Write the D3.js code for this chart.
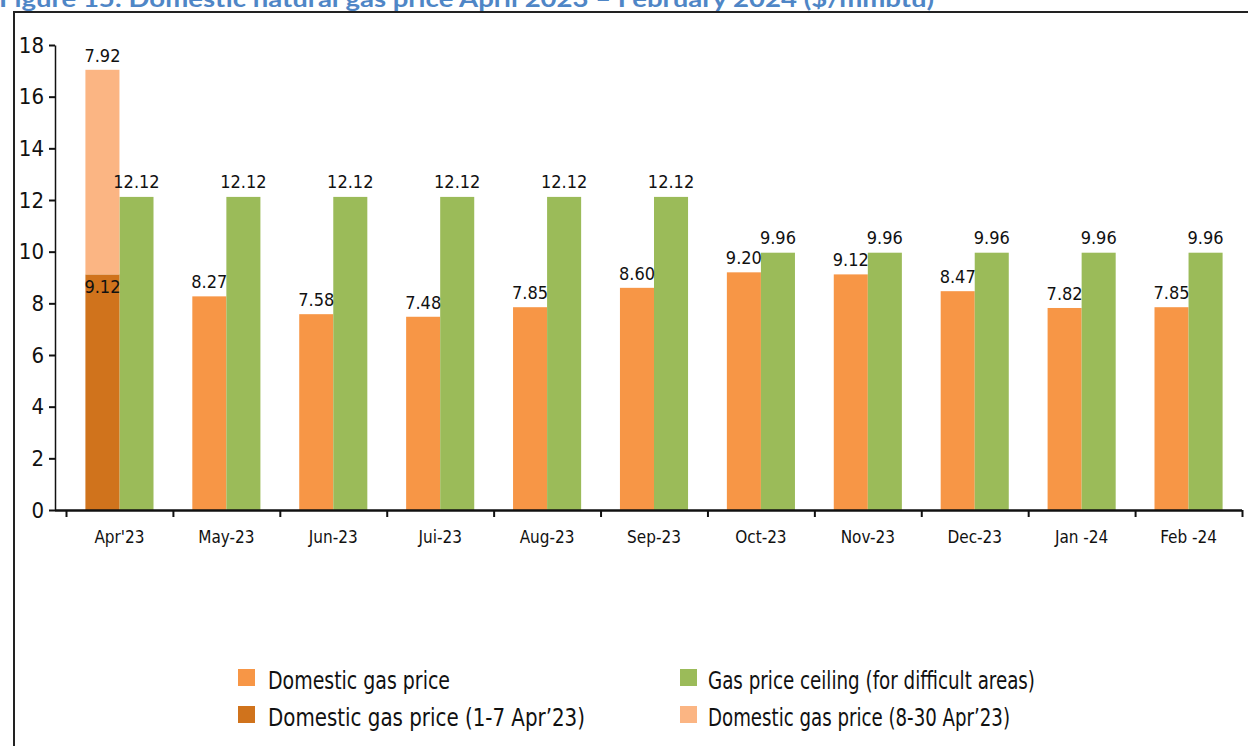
<!DOCTYPE html>
<html>
<head>
<meta charset="utf-8">
<script src="https://cdn.jsdelivr.net/npm/d3@7"></script>
<style>
  body { margin: 0; background: #fff; }
  svg { display: block; }
  text { font-family: "Liberation Sans Narrow", "DejaVu Sans Condensed", sans-serif; fill: #111; }
</style>
</head>
<body>
<svg id="chart" width="1248" height="746"></svg>
<script>
// values ($/mmbtu)
const months = ["Apr'23", "May-23", "Jun-23", "Jui-23", "Aug-23", "Sep-23", "Oct-23", "Nov-23", "Dec-23", "Jan -24", "Feb -24"];
const domestic = [null, 8.27, 7.58, 7.48, 7.85, 8.60, 9.20, 9.12, 8.47, 7.82, 7.85];
const aprilParts = [9.12, 7.92]; // 1-7 Apr, 8-30 Apr (stacked)
const ceiling = [12.12, 12.12, 12.12, 12.12, 12.12, 12.12, 9.96, 9.96, 9.96, 9.96, 9.96];
const yTicks = [0, 2, 4, 6, 8, 10, 12, 14, 16, 18];
const legendLabels = ["Domestic gas price", "Gas price ceiling (for difficult areas)", "Domestic gas price (1-7 Apr\u201923)", "Domestic gas price (8-30 Apr\u201923)"];
const titleText = "Figure 15: Domestic natural gas price April 2023 \u2013 February 2024 ($/mmbtu)";

const colors = {
    domestic: "#f79646",
    early: "#d0731c",
    late: "#fbb583",
    ceiling: "#9bbb59"
};

const svg = d3.select("#chart");

// title (top half is cut off in the source)
svg.append("text")
    .attr("x", -1)
    .attr("y", 7)
    .attr("textLength", 935)
    .attr("lengthAdjust", "spacingAndGlyphs")
    .style("font-family", "Lato, 'Open Sans', sans-serif")
    .style("font-weight", "bold")
    .style("font-size", "22px")
    .style("fill", "#4f86c6")
    .text(titleText);

// frame
svg.append("path")
    .attr("d", "M14,746 V12 H1248")
    .attr("fill", "none")
    .attr("stroke", "#222")
    .attr("stroke-width", 2);

const x0 = d3.scaleBand().domain(months).range([66, 1242]);
const x1 = d3.scaleBand().domain(["domestic", "ceiling"]).range([0, x0.bandwidth()]).paddingOuter(0.57);
const y = d3.scaleLinear().domain([0, 18]).range([510, 45]);

// y axis
const yAxis = svg.append("g")
    .attr("transform", "translate(55,0)")
    .call(d3.axisLeft(y).tickValues(yTicks).tickSize(6).tickSizeOuter(0).tickPadding(5));
yAxis.select(".domain").attr("stroke", "#111").attr("stroke-width", 1.5);
yAxis.selectAll(".tick line").attr("stroke", "#111").attr("stroke-width", 2);
yAxis.selectAll("text").style("font-size", "22px").style("font-family", null);

// bars
const groups = svg.selectAll(".month")
    .data(months)
    .enter().append("g")
    .attr("class", "month")
    .attr("transform", d => `translate(${x0(d)},0)`);

groups.filter((d, i) => domestic[i] !== null)
    .append("rect")
    .attr("x", x1("domestic"))
    .attr("width", x1.bandwidth())
    .attr("y", d => y(domestic[months.indexOf(d)]))
    .attr("height", d => y(0) - y(domestic[months.indexOf(d)]))
    .attr("fill", colors.domestic);

groups.append("rect")
    .attr("x", x1("ceiling"))
    .attr("width", x1.bandwidth())
    .attr("y", (d, i) => y(ceiling[i]))
    .attr("height", (d, i) => y(0) - y(ceiling[i]))
    .attr("fill", colors.ceiling);

// April stacked bar
const aprStack = [
    { y0: 0, y1: aprilParts[0], color: colors.early },
    { y0: aprilParts[0], y1: aprilParts[0] + aprilParts[1], color: colors.late }
];
const apr = groups.filter(d => d === months[0]);
apr.selectAll(".stack")
    .data(aprStack)
    .enter().append("rect")
    .attr("class", "stack")
    .attr("x", x1("domestic"))
    .attr("width", x1.bandwidth())
    .attr("y", d => y(d.y1))
    .attr("height", d => y(d.y0) - y(d.y1))
    .attr("fill", d => d.color);

// value labels
const labelSize = "18px";
groups.filter((d, i) => domestic[i] !== null)
    .append("text")
    .attr("x", x1("domestic") + x1.bandwidth() / 2)
    .attr("y", d => y(domestic[months.indexOf(d)]) - 8)
    .attr("text-anchor", "middle")
    .style("font-size", labelSize)
    .text(d => domestic[months.indexOf(d)].toFixed(2));

groups.append("text")
    .attr("x", x1("ceiling") + x1.bandwidth() / 2)
    .attr("y", (d, i) => y(ceiling[i]) - 9)
    .attr("text-anchor", "middle")
    .style("font-size", labelSize)
    .text((d, i) => ceiling[i].toFixed(2));

apr.append("text")
    .attr("x", x1("domestic") + x1.bandwidth() / 2)
    .attr("y", y(aprilParts[0]) + 19)
    .attr("text-anchor", "middle")
    .style("font-size", labelSize)
    .text(aprilParts[0].toFixed(2));

apr.append("text")
    .attr("x", x1("domestic") + x1.bandwidth() / 2)
    .attr("y", y(aprilParts[0] + aprilParts[1]) - 8)
    .attr("text-anchor", "middle")
    .style("font-size", labelSize)
    .text(aprilParts[1].toFixed(2));

// x axis: ticks at category boundaries
const idx = d3.scaleLinear().domain([0, months.length]).range(x0.range());
const xAxis = svg.append("g")
    .attr("transform", `translate(0,${y(0)})`)
    .call(d3.axisBottom(idx).tickValues(d3.range(0, months.length + 1)).tickFormat("").tickSize(7).tickSizeOuter(0));
xAxis.select(".domain").attr("d", `M55,0.5H1242`).attr("stroke", "#111").attr("stroke-width", 2.5);
xAxis.selectAll(".tick line").attr("stroke", "#111").attr("stroke-width", 2);

svg.append("g").selectAll("text")
    .data(months)
    .enter().append("text")
    .attr("x", d => x0(d) + x0.bandwidth() / 2)
    .attr("y", 543)
    .attr("text-anchor", "middle")
    .style("font-size", "17px")
    .text(d => d);

// legend
const legendColors = [colors.domestic, colors.ceiling, colors.early, colors.late];
const legendWidths = [182, 327, 317, 302];
const legend = svg.append("g").selectAll("g")
    .data(legendLabels)
    .enter().append("g")
    .attr("transform", (d, i) => `translate(${i % 2 === 0 ? 238 : 680},${Math.floor(i / 2) * 37 + 669})`);

legend.append("rect")
    .attr("width", 17)
    .attr("height", 17)
    .attr("fill", (d, i) => legendColors[i]);

legend.append("text")
    .attr("x", (d, i) => i % 2 === 0 ? 30 : 28)
    .attr("y", 20)
    .attr("textLength", (d, i) => legendWidths[i])
    .attr("lengthAdjust", "spacingAndGlyphs")
    .style("font-size", "25px")
    .text(d => d);
</script>
</body>
</html>
